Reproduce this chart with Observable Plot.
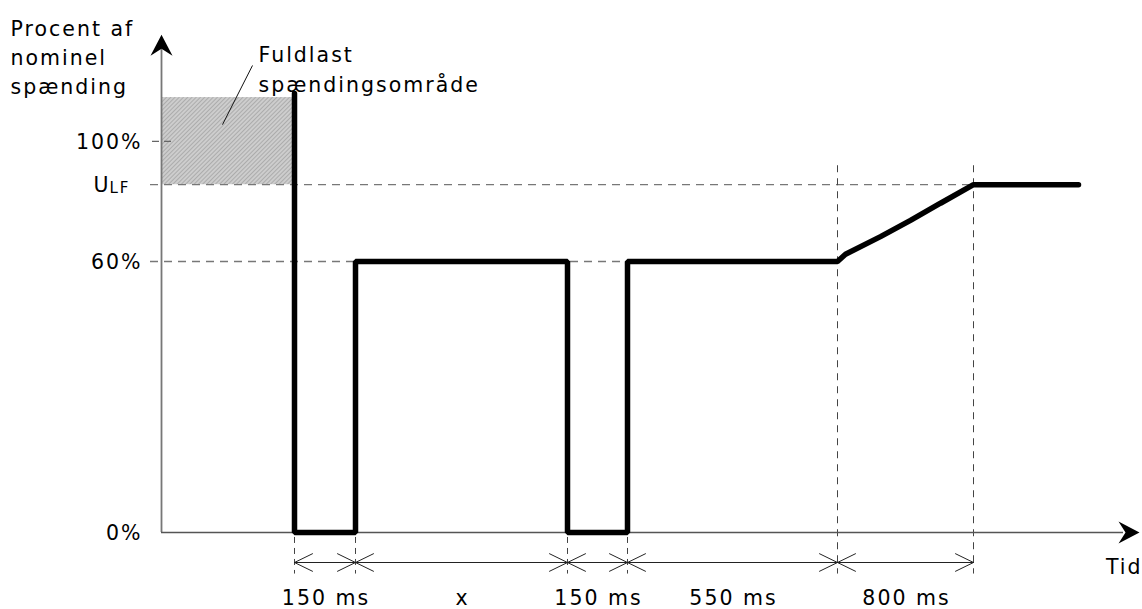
<!DOCTYPE html>
<html><head><meta charset="utf-8">
<script src="https://cdn.jsdelivr.net/npm/d3@7"></script>
<script src="https://cdn.jsdelivr.net/npm/@observablehq/plot@0.6"></script>
<style>body{margin:0;background:#fff}</style>
</head><body><div id="chart"></div>
<script>
// Schematic time units (event positions along the time axis)
const sigT = [133, 133, 194, 194, 406, 406, 466, 466, 676, 684, 719, 749, 779, 812, 917];
// Schematic voltage level units (drawing is not to scale)
const sigV = [97.2, 0, 0, 60, 60, 0, 0, 60, 60, 61.6, 65.5, 69.1, 72.9, 77, 77];
const bounds = [133, 194, 406, 466, 676, 812];
const spanLabels = ["150 ms", "x", "150 ms", "550 ms", "800 ms"];
const tickValues = [0, 60, 86.6];
const tickLabels = ["0%", "60%", "100%"];
const ulf = 77;
const boxTop = 96.3;
const xEnd = 978;
const yTop = 110.2;

const signal = sigT.map((t, i) => ({t, v: sigV[i]}));
const segs = d3.pairs(bounds);

const arrowHead = {draw(ctx) {
  ctx.moveTo(0, 0); ctx.lineTo(11, 21); ctx.lineTo(0, 14); ctx.lineTo(-11, 21); ctx.closePath();
}};

const fs = 20.5;
const plot = Plot.plot({
  width: 1142, height: 609,
  marginTop: 0, marginRight: 0, marginBottom: 0, marginLeft: 0,
  style: {fontFamily: "DejaVu Sans", fontSize: "20.5px", letterSpacing: "2px", color: "#000", background: "#fff"},
  x: {domain: [0, xEnd], range: [161, 1139], axis: null},
  y: {domain: [0, 60], range: [532, 261], axis: null},
  marks: [
    // full-load voltage range box
    Plot.rect([{x1: 0, x2: bounds[0], y1: ulf, y2: boxTop}], {x1: "x1", x2: "x2", y1: "y1", y2: "y2", fill: "url(#hatch)"}),
    // horizontal reference dashes
    Plot.ruleY([tickValues[2]], {x1: -9, x2: 15, stroke: "#666", strokeWidth: 1.3, strokeDasharray: "7,5"}),
    Plot.ruleY([ulf], {x1: -11, x2: bounds[5], stroke: "#777", strokeWidth: 1.3, strokeDasharray: "8,6"}),
    Plot.ruleY([60], {x1: -11, x2: bounds[3], stroke: "#777", strokeWidth: 1.3, strokeDasharray: "8,6"}),
    // vertical reference dashes
    Plot.ruleX(bounds.slice(0, 4), {y1: -1.1, y2: -9.2, stroke: "#444", strokeWidth: 1, strokeDasharray: "6,5"}),
    Plot.ruleX(bounds.slice(4), {y1: 81.2, y2: -9.2, stroke: "#444", strokeWidth: 1, strokeDasharray: "7,6"}),
    // axes
    Plot.ruleX([0], {y1: 0, y2: 107.1, stroke: "#777", strokeWidth: 1.8}),
    Plot.ruleY([0], {x1: 0, x2: 962, stroke: "#555", strokeWidth: 1.5}),
    Plot.dot([{x: 0, y: yTop}], {x: "x", y: "y", symbol: arrowHead, fill: "#000", stroke: "none", r: 6}),
    Plot.dot([{x: xEnd, y: 0}], {x: "x", y: "y", symbol: arrowHead, rotate: 90, fill: "#000", stroke: "none", r: 6}),
    // dimension line
    Plot.ruleY([0], {x1: bounds[0], x2: bounds[5], dy: 30, stroke: "#666", strokeWidth: 1}),
    Plot.arrow(segs, {x1: d => d[0], x2: d => d[1], y1: 0, y2: 0, dy: 30, stroke: "#222", strokeWidth: 1, headLength: 30, headAngle: 52}),
    Plot.arrow(segs, {x1: d => d[1], x2: d => d[0], y1: 0, y2: 0, dy: 30, stroke: "#222", strokeWidth: 1, headLength: 30, headAngle: 52}),
    // signal
    Plot.line(signal, {x: "t", y: "v", stroke: "#000", strokeWidth: 5.5, strokeLinejoin: "miter", strokeLinecap: "round", curve: "linear"}),
    // leader line
    Plot.link([{x1: 61, y1: 90.3, x2: 91, y2: 103.4}], {x1: "x1", y1: "y1", x2: "x2", y2: "y2", stroke: "#111", strokeWidth: 1}),
    // labels
    Plot.text(tickValues, {x: 0, y: d => d, text: (d, i) => tickLabels[i], textAnchor: "end", dx: -19, dy: 1, fontSize: fs, fill: "#000"}),
    Plot.text(["U"], {x: 0, y: ulf, textAnchor: "start", dx: -68, dy: 1, fontSize: fs, fill: "#000"}),
    Plot.text(["LF"], {x: 0, y: ulf, textAnchor: "start", dx: -52, dy: 3, fontSize: 15, fill: "#000"}),
    Plot.text(spanLabels, {x: (d, i) => (bounds[i] + bounds[i + 1]) / 2, y: 0, dy: 66, dx: 1, text: d => d, fontSize: fs, fill: "#000"}),
    Plot.text(["Tid"], {x: xEnd, y: 0, dy: 35, dx: 3, textAnchor: "end", fontSize: fs, fill: "#000"}),
    Plot.text(["Procent af\nnominel\nspænding"], {frameAnchor: "top-left", textAnchor: "start", lineAnchor: "top", dx: 10, dy: 15.5, lineHeight: 1.4, fontSize: fs, fill: "#000"}),
    Plot.text(["Fuldlast\nspændingsområde"], {frameAnchor: "top-left", textAnchor: "start", lineAnchor: "top", dx: 258, dy: 40.5, lineHeight: 1.46, fontSize: fs, fill: "#000"})
  ]
});

d3.select(plot).insert("defs", ":first-child").html(
  '<pattern id="hatch" width="3" height="3" patternUnits="userSpaceOnUse" patternTransform="rotate(45)">' +
  '<rect width="3" height="3" fill="#cdcdcd"/><line x1="0" y1="0" x2="0" y2="3" stroke="#9a9a9a" stroke-width="1.3"/></pattern>'
);
document.getElementById("chart").appendChild(plot);
</script>
</body></html>
